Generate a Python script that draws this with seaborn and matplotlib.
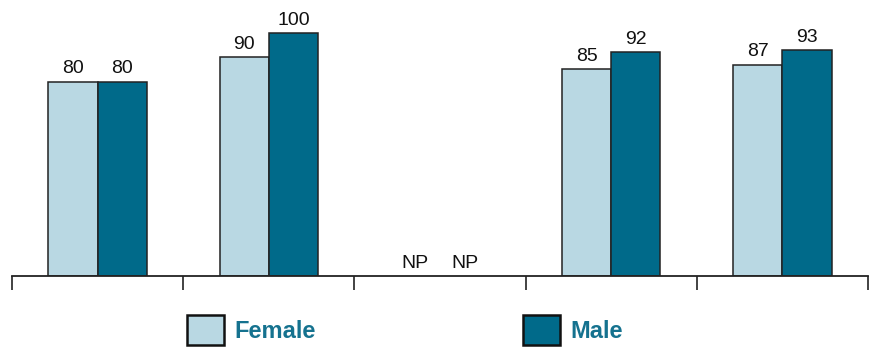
import numpy as np
import pandas as pd
import matplotlib.pyplot as plt
import seaborn as sns

# %% data
groups = ['Group 1', 'Group 2', 'Group 3', 'Group 4', 'Group 5']
female = [80, 90, np.nan, 85, 87]
male = [80, 100, np.nan, 92, 93]
sexes = ['Female', 'Male']
colors = ['#b9d8e3', '#006a8a']

# %%
def main():
    df = pd.DataFrame({
        'group': groups * 2,
        'sex': ['Female'] * len(groups) + ['Male'] * len(groups),
        'value': female + male,
    })
    df['plot_value'] = df['value'].fillna(0)

    sns.set_style('white')
    plt.rcParams['font.family'] = ['Liberation Sans', 'DejaVu Sans']

    fig = plt.figure(figsize=(8.74, 3.51), dpi=100)
    ax = fig.add_axes([12 / 874, 75 / 351, 856 / 874, 276 / 351])
    sns.barplot(data=df, x='group', y='plot_value', hue='sex', hue_order=sexes,
                palette=colors, saturation=1, width=0.574, edgecolor='#222222',
                linewidth=1.1, legend=False, ax=ax, errorbar=None)

    for container, sex in zip(ax.containers, sexes):
        vals = df[df['sex'] == sex]['value'].tolist()
        labels = ['NP' if np.isnan(v) else f'{v:.0f}' for v in vals]
        for patch, v in zip(container.patches, vals):
            if np.isnan(v):
                patch.set_edgecolor('none')
        ax.bar_label(container, labels=labels, padding=3, fontsize=14, color='#111111')

    ax.set_ylim(0, 113.6)
    ax.set_xlim(-0.5, len(groups) - 0.5)
    ax.set_xticks(np.arange(-0.5, len(groups), 1))
    ax.set_xticklabels([])
    ax.set_yticks([])
    ax.set_xlabel('')
    ax.set_ylabel('')
    ax.tick_params(axis='x', direction='out', length=10, width=1.2, color='#222222', bottom=True)
    for side in ['top', 'left', 'right']:
        ax.spines[side].set_visible(False)
    ax.spines['bottom'].set_color('#222222')
    ax.spines['bottom'].set_linewidth(1.3)

    handles = [plt.Rectangle((0, 0), 1, 1, facecolor=c, edgecolor='#111111', linewidth=1.8)
               for c in colors]
    leg = fig.legend(handles, sexes, loc='center left', bbox_to_anchor=(187 / 874, 0.06),
                     ncol=2, frameon=False, borderpad=0, borderaxespad=0,
                     handlelength=1.57, handleheight=1.53, handletextpad=0.45,
                     columnspacing=8.75, prop={'size': 17, 'weight': 'bold'})
    for t in leg.get_texts():
        t.set_color('#15728f')

    plt.savefig('out.png', dpi=100)

if __name__ == '__main__':
    main()
